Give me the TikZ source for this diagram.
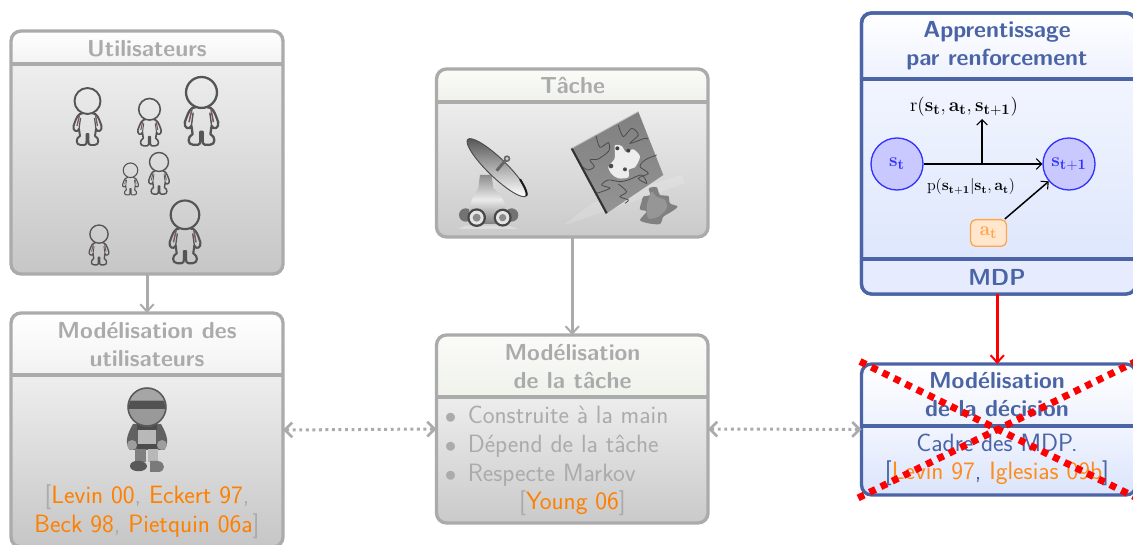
\documentclass[tikz,border=0pt]{standalone}
\usetikzlibrary{arrows.meta,calc}
\definecolor{gborder}{HTML}{ABABAB}
\definecolor{tborder}{HTML}{ABABAB}
\definecolor{bborder}{HTML}{4A64A6}
\definecolor{gtext}{HTML}{ABABAB}
\definecolor{gHt}{HTML}{FFFFFF}
\definecolor{gHb}{HTML}{F2F2F2}
\definecolor{gBt}{HTML}{EEEEEE}
\definecolor{gBb}{HTML}{C6C6C6}
\definecolor{tHt}{HTML}{FBFCF8}
\definecolor{tHb}{HTML}{EFF1EB}
\definecolor{tBt}{HTML}{EDEDED}
\definecolor{tBb}{HTML}{CACACA}
\definecolor{bHt}{HTML}{FFFFFF}
\definecolor{bHb}{HTML}{EEF2FE}
\definecolor{bBt}{HTML}{F2F5FF}
\definecolor{bBb}{HTML}{DAE4FB}
\definecolor{cite}{HTML}{FF8000}
\definecolor{citeb}{HTML}{FF8C1A}
\definecolor{stfill}{HTML}{C9C9FF}
\definecolor{stline}{HTML}{3333FF}
\definecolor{acfill}{HTML}{FFE6CC}
\definecolor{acline}{HTML}{FFA64D}
\definecolor{persline}{HTML}{555555}
\definecolor{persred}{HTML}{7C5A64}
\newcommand{\panelbox}[7]{%
  \begin{scope}
    \clip[rounded corners=7.5pt] (#2,#3) rectangle (#4,#5);
    \shade[top color=#7Ht,bottom color=#7Hb] (#2,#3) rectangle (#4,#6);
    \shade[top color=#7Bt,bottom color=#7Bb] (#2,#6) rectangle (#4,#5);
  \end{scope}
  \node[pbox,draw=#7border,minimum width={(#4-#2)*0.75pt},minimum height={(#5-#3)*0.75pt}] (#1) at ({(#2+#4)/2},{(#3+#5)/2}) {};
  \draw[#7border,divider] (#1.west |- 0,#6) -- (#1.east |- 0,#6);
}
\newcommand{\person}[3]{%
  \begin{scope}[shift={(#1,#2)},scale=#3,line width={#3*1.45pt},draw=persline]
    \draw (0,13) circle [radius=13];
    \draw[line join=round] (-5,25.5) .. controls (-9,25) and (-11,29) .. (-14,38)
      .. controls (-15,43) and (-10,45) .. (-8.5,41) -- (-7.5,48)
      .. controls (-12,50) and (-12,57) .. (-7,57) -- (-3,57) .. controls (-1,57) and (-1,55) .. (-1,53) -- (-1,46) -- (1,46) -- (1,53)
      .. controls (1,55) and (1,57) .. (3,57) -- (7,57) .. controls (12,57) and (12,50) .. (7.5,48) -- (8.5,41)
      .. controls (10,45) and (15,43) .. (14,38) .. controls (11,29) and (9,25) .. (5,25.5);
    \draw[persred,line width={#3*1.0pt}] (-8,27) -- (-10.5,38);
    \draw[persred,line width={#3*1.0pt}] (8,27) -- (10,38);
    \draw[persline,line width={#3*.9pt}] (-8.5,41) -- (-7,30);
    \draw[persline,line width={#3*.9pt}] (8.5,41) -- (7,30);
  \end{scope}}
\newcommand{\cita}[1]{\textcolor{cite}{#1}}
\newcommand{\citb}[1]{\textcolor{citeb}{#1}}
\newcommand{\itemdot}{{\fontsize{16}{14}\selectfont$\bullet$}\hspace{8.6pt}}
\tikzset{
  x=0.75pt,y=-0.75pt,
  pbox/.style={line width=2.5pt,rounded corners=7.5pt,inner sep=0pt,outer sep=0pt},
  divider/.style={line width=2.5pt},
  titletext/.style={font=\sffamily\bfseries\fontsize{17.4}{21.4}\selectfont,align=center,inner sep=0pt},
  bodytext/.style={font=\sffamily\fontsize{18.8}{21.6}\selectfont,align=center,inner sep=0pt},
  conn/.style={line width=2.25pt,-{Straight Barb[length=5.5pt,width=10pt,line width=1.5pt]}},
  dotconn/.style={line width=2.25pt,dash pattern=on 2.2pt off 2.7pt,{Straight Barb[length=5.5pt,width=11pt,line width=2pt]}-{Straight Barb[length=5.5pt,width=11pt,line width=2pt]}},
  mdpedge/.style={line width=1.1pt,-{Straight Barb[length=4pt,width=8pt,line width=.8pt]}},
  statenode/.style={circle,draw=stline,fill=stfill,line width=1pt,minimum size=39pt,inner sep=0pt,text=stline,font=\fontsize{15.5}{17}\selectfont},
  actionnode/.style={draw=acline,fill=acfill,line width=1pt,rounded corners=4pt,minimum width=27pt,minimum height=20pt,inner sep=0pt,text=acline,font=\fontsize{15.5}{17}\selectfont},
  mathlabel/.style={inner sep=0pt,text=black},
  crossline/.style={red,line width=5.2pt,dash pattern=on 5pt off 4.5pt},
}
\begin{document}
\begin{tikzpicture}
\useasboundingbox (0,0) rectangle (1133,545);
\clip (0,0) rectangle (1133,545);
\fill[white] (0,0) rectangle (1133,545);

% ---------- Utilisateurs
\panelbox{users}{11}{31}{283}{274}{64}{g}
\node[titletext,text=gtext] (usersT) at (147,48.5) {Utilisateurs};
\person{87.5}{88}{1}
\person{149.5}{98.5}{.83}
\person{201.5}{77}{1.19}
\person{130.5}{163}{.56}
\person{159}{152.5}{.73}
\person{185}{200.5}{1.1}
\person{99}{225}{.7}

% ---------- Modelisation des utilisateurs
\panelbox{umodel}{11}{313}{283}{547}{375}{g}
\node[titletext,text=gtext] (umodelT) at (147,344.5) {Modélisation des\\utilisateurs};
% character
\begin{scope}
  \fill[black!62] (133,424) .. controls (126,436) and (125,444) .. (130,450) -- (164,450) .. controls (169,444) and (168,436) .. (161,424) -- cycle;
  \fill[black!70] (137,424) rectangle (157,430);
  \fill[black!28] (138,430) rectangle (156,444);
  \fill[black!70] (137,444) rectangle (157,449);
  \fill[black!50] (135,449) rectangle (146,462);
  \fill[black!28] (148,449) rectangle (158,462);
  \fill[black!38] (132,445) circle [radius=5];
  \fill[black!38] (162,445) circle [radius=5];
  \fill[black!65] (130,466) .. controls (130,459) and (146,459) .. (147,466) .. controls (147,473) and (130,473) .. (130,466) -- cycle;
  \fill[black!52] (150,461) -- (158,461) .. controls (166,462) and (166,472) .. (158,472) -- (150,472) -- cycle;
  \fill[black!45] (147,407) circle [radius=19.5];
  \begin{scope}
    \clip (147,407) circle [radius=18];
    \fill[black!35] (125,385) rectangle (170,400);
    \fill[black!68] (125,401) rectangle (170,409);
    \fill[black!40] (125,409) rectangle (170,430);
  \end{scope}
  \draw[black!65,line width=1.1pt] (147,407) circle [radius=19];
\end{scope}
\node[bodytext,text=gtext] (ucite) at (147,511.5) {[\cita{Levin 00}, \cita{Eckert 97},\\\cita{Beck 98}, \cita{Pietquin 06a}]};

% ---------- Tache
\panelbox{task}{436.5}{69}{708}{237}{102}{t}
\node[titletext,text=gtext] (taskT) at (572.5,86) {Tâche};
% dish
\begin{scope}[shift={(425,60)},scale=.3333]
  \fill[white,opacity=.3] (100,507) -- (280,507) -- (250,497) -- (120,497) -- cycle;
  \fill[black!55] (122,465) circle [radius=20];
  \fill[black!55] (260,465) circle [radius=20];
  \shade[top color=black!45,bottom color=black!50,middle color=black!8] (165,345) -- (200,345) -- (205,385)
    .. controls (225,400) and (245,430) .. (245,460) -- (235,492) -- (150,492) -- (132,460)
    .. controls (132,430) and (150,400) .. (160,385) -- cycle;
  \fill[black!72] (155,473) circle [radius=28];
  \fill[black!10] (155,473) circle [radius=21];
  \fill[black!45] (155,473) circle [radius=12];
  \fill[black!72] (233,473) circle [radius=27];
  \fill[black!10] (233,473) circle [radius=20];
  \fill[black!45] (233,473) circle [radius=11];
  \shade[top color=black!65,bottom color=white,rotate around={-44:(216,323)}] (216,323) ellipse [x radius=122,y radius=28];
  \draw[black!70,line width=.7pt,rotate around={-44:(216,323)}] (216,323) ellipse [x radius=122,y radius=28];
  \draw[black!90,line width=1.5pt,rotate around={-44:(216,323)}] (290,300) .. controls (320,308) and (338,316) .. (338,323);
  \draw[black!60,line width=2.2pt] (215,332) -- (245,297);
  \fill[black!60] (246,296) circle [radius=10];
  \fill[black!20] (246,296) circle [radius=5];
\end{scope}
% puzzle
\begin{scope}[shift={(425,60)},scale=.3333]
  \fill[white,opacity=.15] (415,497) -- (780,370) -- (770,345) -- (500,430) -- cycle;
  \shade[top color=black!50,bottom color=black!42] (440,265) -- (640,155) -- (715,345) -- (545,460) -- cycle;
  \draw[black!80,line width=1.6pt] (440,265) -- (545,460);
  \draw[black!25,line width=.6pt] (440,265) -- (640,155);
  \draw[black!70,line width=.6pt] plot[smooth] coordinates {(513,227) (525,262) (550,248) (552,272) (520,297) (495,300) (508,320) (490,330) (475,322)};
  \draw[black!70,line width=.6pt] plot[smooth] coordinates {(580,195) (595,230) (620,205) (640,225) (615,250) (660,235) (668,238)};
  \draw[black!70,line width=.6pt] plot[smooth] coordinates {(695,285) (660,300) (645,320) (670,340) (640,355) (665,370) (650,345) (610,360) (585,365) (550,360) (530,375) (555,385) (515,400)};
  \draw[black!70,line width=.6pt] plot[smooth] coordinates {(580,372) (605,395) (585,410) (610,420) (600,430)};
  \fill[black!7] plot[smooth cycle] coordinates {(570,256) (590,258) (603,276) (625,268) (645,290) (630,322) (612,328) (610,352) (580,355) (560,342) (550,320) (568,298) (570,280)};
  \fill[black!75] (577,265) circle [radius=6];
  \fill[black!75] (610,272) circle [radius=6];
  \fill[black!70] (558,318) circle [radius=7];
  \fill[black!70] (600,328) circle [radius=6];
  \fill[black!50] plot[smooth cycle] coordinates {(655,410) (675,405) (672,385) (695,382) (705,405) (730,408) (735,430) (758,440) (735,458) (715,470) (705,492) (670,490) (645,480) (665,455) (645,448) (650,425)};
  \fill[white,opacity=.18] plot[smooth cycle] coordinates {(680,395) (695,410) (720,420) (725,445) (700,470) (670,475) (665,440) (670,420)};
\end{scope}

% ---------- Modelisation de la tache
\panelbox{tmodel}{436.5}{335}{708}{523}{397}{t}
\node[titletext,text=gtext] (tmodelT) at (572.5,366.5) {Modélisation\\de la tâche};
\node[bodytext,text=gtext,align=left,anchor=west] (titems) at (444.5,446.5) {\itemdot Construite à la main\\\itemdot Dépend de la tâche\\\itemdot Respecte Markov};
\node[bodytext,text=gtext] (tcite) at (572.5,503) {[\cita{Young 06}]};

% ---------- Apprentissage par renforcement
\panelbox{rl}{861.5}{13}{1136}{294}{79}{b}
\fill[bBt!50!bBb] (863,260) rectangle (1134,293);
\draw[bborder,divider] (rl.west |- 0,259) -- (rl.east |- 0,259);
\draw[bborder,line width=2.5pt,rounded corners=7.5pt] (861.5,13) rectangle (1136,294);
\node[titletext,text=bborder] (rlT) at (997,45.5) {Apprentissage\\par renforcement};
\node[titletext,text=bborder] (mdpT) at (997,277) {MDP};
\node[statenode] (st) at (897,164) {$\mathbf{s_t}$};
\node[statenode] (stp) at (1069,164) {$\mathbf{s_{t+1}}$};
\node[actionnode] (at) at (988.5,233) {$\mathbf{a_t}$};
\node[mathlabel,font=\fontsize{15.5}{17}\selectfont] (rew) at (964,107) {$\mathrm{r}(\mathbf{s_t},\mathbf{a_t},\mathbf{s_{t+1}})$};
\node[mathlabel,font=\fontsize{11.5}{14}\selectfont] (prob) at (971,187) {$\mathrm{p}(\mathbf{s_{t+1}}|\mathbf{s_t},\mathbf{a_t})$};
\coordinate (branch) at (982,164);
\coordinate (rewtip) at (982,119);
\draw[mdpedge] (st) -- (stp);
\draw[mdpedge] (branch) -- (rewtip);
\draw[mdpedge] (at) -- (stp);

% ---------- Modelisation de la decision
\panelbox{dmodel}{861.5}{364}{1136}{495}{426}{b}
\node[titletext,text=bborder] (dmodelT) at (997,394.5) {Modélisation\\de la décision};
\node[bodytext,text=bborder] (dbody) at (997,460) {Cadre des MDP.\\{}[\citb{Levin 97}, \citb{Iglesias 09b}]};

% ---------- Connectors
\draw[conn,gborder] (users.south) -- (umodel.north);
\draw[conn,gborder] (task.south) -- (tmodel.north);
\draw[conn,red] ([xshift=-1.1pt]rl.south) -- ([xshift=-1.1pt]dmodel.north);
\draw[dotconn,gborder] (umodel.east) -- (tmodel.west);
\draw[dotconn,gborder] (tmodel.east) -- (dmodel.west);

% ---------- Red cross
\coordinate (crossA) at (860,361.5);
\coordinate (crossB) at (1137,498);
\coordinate (crossC) at (858,498);
\coordinate (crossD) at (1137,361);
\draw[crossline] (crossA) -- (crossB);
\draw[crossline] (crossD) -- (crossC);
\end{tikzpicture}
\end{document}
